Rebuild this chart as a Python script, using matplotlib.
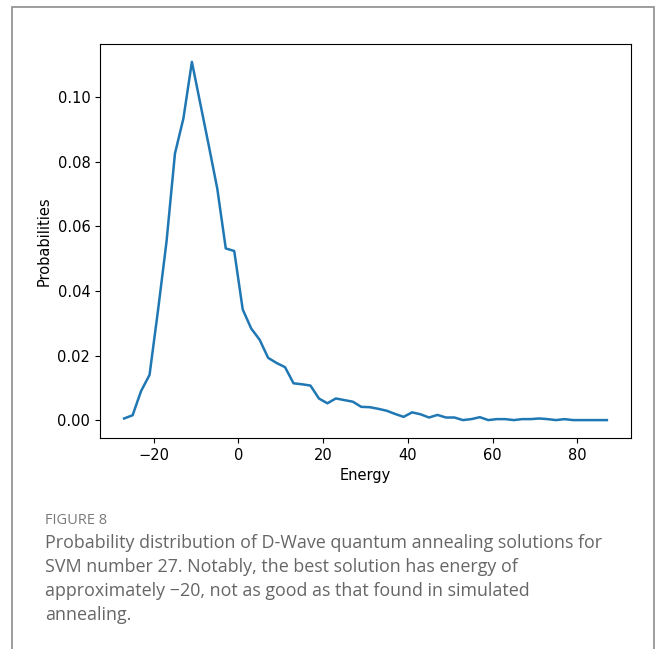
import matplotlib
matplotlib.use('Agg')
import matplotlib.pyplot as plt
from matplotlib.patches import Rectangle

# energy levels (odd integers) and probability of each
energy = list(range(-27, 88, 2))
probabilities = [
    0.0005, 0.0015, 0.0090, 0.0140, 0.0340, 0.0552, 0.0826, 0.0935, 0.1110, 0.0980,
    0.0850, 0.0717, 0.0532, 0.0524, 0.0343, 0.0284, 0.0249, 0.0193, 0.0177, 0.0164,
    0.0114, 0.0111, 0.0107, 0.0067, 0.0052, 0.0067, 0.0062, 0.0057, 0.0041, 0.0040,
    0.0035, 0.0029, 0.0019, 0.0010, 0.0024, 0.0018, 0.0008, 0.0016, 0.0008, 0.0008,
    0.0000, 0.0003, 0.0009, 0.0000, 0.0003, 0.0003, 0.0000, 0.0003, 0.0003, 0.0005,
    0.0003, 0.0000, 0.0003, 0.0000, 0.0000, 0.0000, 0.0000, 0.0000,
]

caption_label = 'FIGURE 8'
caption_lines = [
    'Probability distribution of D-Wave quantum annealing solutions for',
    'SVM number 27. Notably, the best solution has energy of',
    'approximately \u221220, not as good as that found in simulated',
    'annealing.',
]

fig = plt.figure(figsize=(6.56, 6.49), dpi=100)

# outer frame of the figure panel
frame = Rectangle((12 / 656, -0.05), 642 / 656, 1.05 - 7 / 649, transform=fig.transFigure,
                  fill=False, edgecolor='#8c8c8c', linewidth=1.2)
fig.patches.append(frame)

ax = fig.add_axes([100 / 656, 1 - 438 / 649, 531 / 656, 394 / 649])
ax.plot(energy, probabilities, color='#1f77b4', linewidth=1.8)
ax.set_xlabel('Energy', fontsize=10.5)
ax.set_ylabel('Probabilities', fontsize=10.5)
ax.tick_params(labelsize=10.5)
ax.set_xticks([-20, 0, 20, 40, 60, 80])
ax.set_yticks([0.0, 0.02, 0.04, 0.06, 0.08, 0.10])

fig.text(45 / 656, 1 - 520 / 649, caption_label, fontsize=10.5, color='#7a7a7a',
         family='Open Sans', va='center')
for i, line in enumerate(caption_lines):
    fig.text(45 / 656, 1 - (543 + i * 24) / 649, line, fontsize=12.9, color='#666666',
             family='Open Sans', va='center')

fig.savefig('out.png', dpi=100)
